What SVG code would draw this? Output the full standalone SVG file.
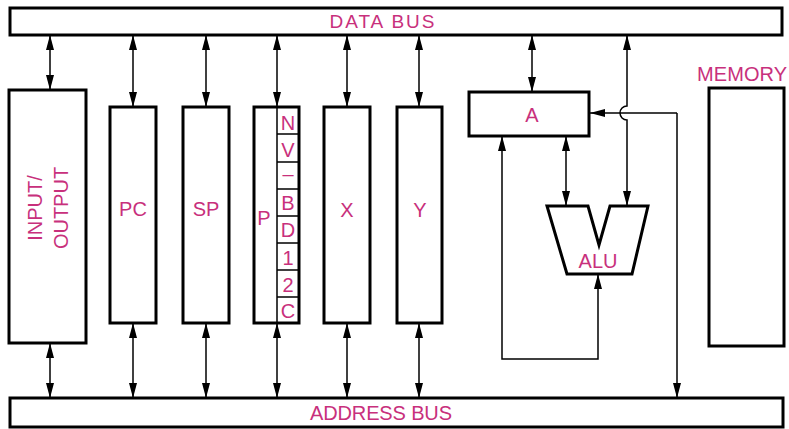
<svg xmlns="http://www.w3.org/2000/svg" width="789" height="429" viewBox="0 0 789 429">
<style>
.box{fill:#fff;stroke:#000;stroke-width:3}
.cell{fill:none;stroke:#000;stroke-width:1.5}
.lbl{font-family:"Liberation Sans","DejaVu Sans",sans-serif;fill:#c8307c;font-size:20px;text-anchor:middle}
.con{fill:none;stroke:#000;stroke-width:1.5}
.ar2{marker-start:url(#ah);marker-end:url(#ah)}
.ar1{marker-end:url(#ah)}
</style>
<defs>
<marker id="ah" markerUnits="userSpaceOnUse" markerWidth="15" markerHeight="9" viewBox="0 0 15 9" refX="15" refY="4.5" orient="auto-start-reverse">
<path d="M0,0.5 L15,4.5 L0,8.5 z" fill="#000"/>
</marker>
</defs>
<rect width="789" height="429" fill="#fff"/>
<g id="connectors">
<line class="con ar2" x1="50" y1="35" x2="50" y2="90"/>
<line class="con ar2" x1="133" y1="35" x2="133" y2="107"/>
<line class="con ar2" x1="206" y1="35" x2="206" y2="107"/>
<line class="con ar2" x1="277" y1="35" x2="277" y2="107"/>
<line class="con ar2" x1="347" y1="35" x2="347" y2="107"/>
<line class="con ar2" x1="419" y1="35" x2="419" y2="107"/>
<line class="con ar2" x1="532" y1="35" x2="532" y2="92"/>
<line class="con ar2" x1="50" y1="343" x2="50" y2="398"/>
<line class="con ar2" x1="133" y1="323" x2="133" y2="398"/>
<line class="con ar2" x1="206" y1="323" x2="206" y2="398"/>
<line class="con ar2" x1="277" y1="323" x2="277" y2="398"/>
<line class="con ar2" x1="347" y1="323" x2="347" y2="398"/>
<line class="con ar2" x1="419" y1="323" x2="419" y2="398"/>
<path class="con ar2" d="M627,35 V106 A7,7 0 0 0 627,120 V206"/>
<line class="con ar2" x1="566" y1="136" x2="566" y2="206"/>
<path class="con ar2" d="M598,274 V359 H502 V136"/>
<path class="con ar1" d="M677,113 H590"/>
<path class="con ar1" d="M677,113 V398"/>
</g>
<g id="databus"><rect class="box" x="10" y="8" width="772" height="27"/><text class="lbl" x="382" y="28" style="font-size:19px" textLength="105" lengthAdjust="spacing">DATA BUS</text></g>
<g id="addressbus"><rect class="box" x="10" y="398" width="773" height="29"/><text class="lbl" x="381" y="420" textLength="142" lengthAdjust="spacing">ADDRESS BUS</text></g>
<g id="io"><rect class="box" x="9" y="90" width="77" height="253"/>
<text class="lbl" transform="translate(48,208) rotate(-90)"><tspan x="0" y="-6">INPUT/</tspan><tspan x="0" y="20">OUTPUT</tspan></text></g>
<g id="pc"><rect class="box" x="110" y="107" width="46" height="216"/><text class="lbl" x="133" y="216">PC</text></g>
<g id="sp"><rect class="box" x="183" y="107" width="46" height="216"/><text class="lbl" x="206" y="216">SP</text></g>
<g id="p"><rect class="box" x="254" y="107" width="45" height="216"/><text class="lbl" x="264" y="225">P</text>
<path class="cell" d="M277,107 V323 M277,134 H299 M277,162 H299 M277,189 H299 M277,216 H299 M277,243 H299 M277,270 H299 M277,297 H299"/>
<g class="lbl"><text x="288" y="130">N</text><text x="288" y="157">V</text><text x="288" y="181">–</text><text x="288" y="210">B</text><text x="288" y="237">D</text><text x="288" y="265">1</text><text x="288" y="292">2</text><text x="288" y="318">C</text></g></g>
<g id="x"><rect class="box" x="324" y="107" width="46" height="216"/><text class="lbl" x="347" y="217">X</text></g>
<g id="y"><rect class="box" x="397" y="107" width="45" height="216"/><text class="lbl" x="420" y="217">Y</text></g>
<g id="a"><rect class="box" x="469" y="92" width="120" height="44"/><text class="lbl" x="532" y="122">A</text></g>
<g id="alu"><path class="box" d="M547,206 H588 L599,245 L610,206 H648 L632,274 H567 Z"/><text class="lbl" x="598" y="268">ALU</text></g>
<g id="memory"><rect class="box" x="709" y="88" width="75" height="258"/><text class="lbl" x="742" y="81" textLength="90" lengthAdjust="spacing">MEMORY</text></g>
</svg>
